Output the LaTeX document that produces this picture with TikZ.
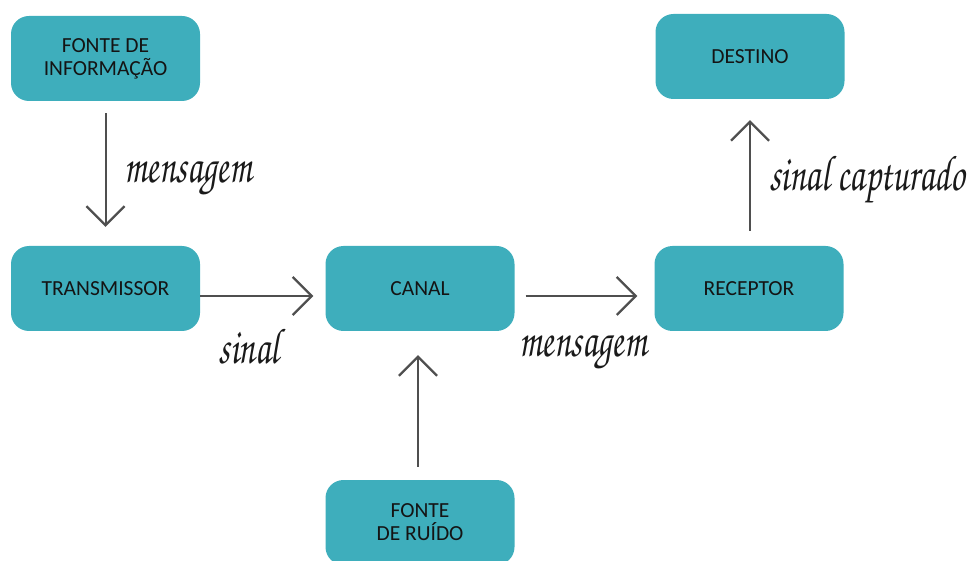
\documentclass[tikz,border=0pt]{standalone}
\usepackage{fontspec}
\setmainfont{Carlito}
\newfontfamily\hand{texgyrechorus-mediumitalic.otf}
\usetikzlibrary{arrows.meta}
\definecolor{boxteal}{HTML}{3EAEBC}
\definecolor{arrowgray}{HTML}{4F4F4F}
\definecolor{labelink}{HTML}{1A1A1A}
\tikzset{
  block/.style={fill=boxteal, rounded corners=18pt, minimum width=189pt,
    minimum height=85pt, inner sep=0pt, align=center,
    font=\fontsize{21.5}{23}\selectfont, text=black!92},
  flow/.style={draw=arrowgray, line width=2pt,
    -{Straight Barb[length=19pt,width=38pt,line width=2.2pt]}},
  note/.style={font=\hand\fontsize{36}{40}\selectfont, text=labelink, inner sep=0pt},
}
\newcommand{\tallhand}[1]{\scalebox{1.0}[1.4]{#1}}
\begin{document}
\begin{tikzpicture}[x=1pt,y=-1pt]
  \useasboundingbox (0,0) rectangle (967,561);
  \clip (0,0) rectangle (967,561);

  % blocks of the communication chain
  \node[block] (info)  at (105.5,58.5)  {FONTE DE\\INFORMAÇÃO};
  \node[block] (trans) at (105.5,288.5) {TRANSMISSOR};
  \node[block] (canal) at (420,288.5)   {CANAL};
  \node[block] (recep) at (749,288.5)   {RECEPTOR};
  \node[block] (dest)  at (750,56.5)    {DESTINO};
  \node[block] (ruido) at (420,522.5)   {FONTE\\DE RUÍDO};

  % connectors
  \draw[flow] ([yshift=-12pt]info.south) -- ([yshift=19pt]trans.north);
  \draw[flow] ([yshift=-7.5pt]trans.east) -- ([xshift=-12pt,yshift=-7.5pt]canal.west);
  \draw[flow] ([xshift=11pt,yshift=-7.5pt]canal.east) -- ([xshift=-17pt,yshift=-7.5pt]recep.west);
  \draw[flow] ([xshift=-2pt,yshift=13pt]ruido.north) -- ([xshift=-2pt,yshift=-24pt]canal.south);
  \draw[flow] ([xshift=1pt,yshift=15pt]recep.north) -- ([yshift=-21pt]dest.south);

  % handwritten labels
  \node[note] (l1) at (188,178) {\tallhand{mensagem}};
  \node[note] (l2) at (249,347) {\tallhand{sinal}};
  \node[note] (l3) at (583,352) {\tallhand{mensagem}};
  \node[note] (l4) at (867,180) {\tallhand{sinal capturado}};
\end{tikzpicture}
\end{document}
